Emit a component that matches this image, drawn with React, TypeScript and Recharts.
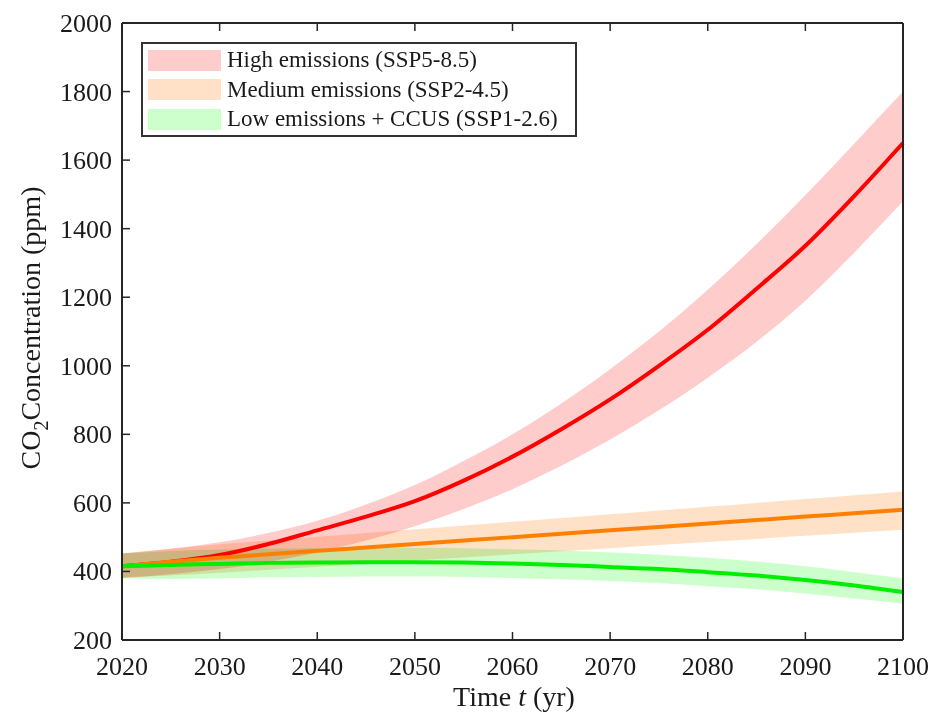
import React from 'react';
import { ComposedChart, Area, Line, XAxis, YAxis } from 'recharts';

const years = [2020, 2025, 2030, 2035, 2040, 2045, 2050, 2055, 2060, 2065, 2070, 2075, 2080, 2085, 2090, 2095, 2100];

const highMid = [415, 428, 448, 480, 520, 560, 605, 665, 735, 815, 902, 1000, 1105, 1225, 1350, 1495, 1650];
const highLow = [382, 392, 407, 428, 455, 490, 532, 582, 640, 708, 785, 870, 965, 1070, 1190, 1330, 1480];
const highHigh = [452, 466, 485, 512, 548, 595, 652, 722, 800, 890, 990, 1100, 1222, 1355, 1498, 1648, 1800];

const medMid = [415, 428, 440, 450, 460, 470, 480, 490, 500, 510, 520, 530, 540, 550, 560, 570, 580];
const medLow = [380, 388, 396, 405, 414, 423, 432, 441, 450, 459, 468, 477, 486, 495, 504, 513, 522];
const medHigh = [452, 466, 479, 490, 501, 512, 523, 534, 545, 556, 567, 578, 589, 600, 611, 622, 633];

const lowMid = [415, 419, 422, 425, 426, 427, 427, 426, 423, 419, 413, 407, 398, 388, 375, 359, 340];
const lowLow = [380, 378, 380, 383, 384, 385, 385, 384, 381, 377, 372, 366, 357, 348, 336, 321, 306];
const lowHigh = [452, 460, 464, 467, 468, 469, 469, 468, 465, 461, 455, 449, 440, 429, 415, 398, 380];

const xTicks = [2020, 2030, 2040, 2050, 2060, 2070, 2080, 2090, 2100];
const yTicks = [200, 400, 600, 800, 1000, 1200, 1400, 1600, 1800, 2000];

const legendNames = ['High emissions (SSP5-8.5)', 'Medium emissions (SSP2-4.5)', 'Low emissions + CCUS (SSP1-2.6)'];
const bandColors = ['#ffcccc', '#ffe1c8', '#ccffcc'];
const lineColors = ['#ff0000', '#ff7f00', '#00ee00'];

const data = years.map((year, i) => ({
  year,
  highMid: highMid[i],
  highBand: [highLow[i], highHigh[i]],
  medMid: medMid[i],
  medBand: [medLow[i], medHigh[i]],
  lowMid: lowMid[i],
  lowBand: [lowLow[i], lowHigh[i]],
}));

const FONT = '"Liberation Serif", "Times New Roman", serif';
const AXIS = '#262626';

const BottomTick = ({ x, y, payload }: any) => (
  <g>
    <line x1={x} x2={x} y1={y} y2={y - 8} stroke={AXIS} strokeWidth={1.5} />
    <text x={x} y={y + 35} textAnchor="middle" fontSize={26} fontFamily={FONT} fill="#1a1a1a">
      {payload.value}
    </text>
  </g>
);

const LeftTick = ({ x, y, payload }: any) => (
  <g>
    <line x1={x} x2={x + 8} y1={y} y2={y} stroke={AXIS} strokeWidth={1.5} />
    <text x={x - 10} y={y + 9} textAnchor="end" fontSize={26} fontFamily={FONT} fill="#1a1a1a">
      {payload.value}
    </text>
  </g>
);

const TopTick = ({ x, y }: any) => <line x1={x} x2={x} y1={y} y2={y + 8} stroke={AXIS} strokeWidth={1.5} />;
const RightTick = ({ x, y }: any) => <line x1={x} x2={x - 8} y1={y} y2={y} stroke={AXIS} strokeWidth={1.5} />;

export default function App() {
  return (
    <div style={{ position: 'absolute', left: 0, top: 0, width: 934, height: 715, background: '#fff' }}>
      <style>{`.recharts-area-area { mix-blend-mode: multiply; }`}</style>
      <ComposedChart width={934} height={715} data={data} margin={{ top: 22, right: 30, bottom: 0, left: 0 }}>
        <XAxis
          dataKey="year"
          type="number"
          domain={[2020, 2100]}
          ticks={xTicks}
          interval={0}
          height={75}
          tickSize={0}
          tickMargin={0}
          tickLine={false}
          tick={<BottomTick />}
          axisLine={{ stroke: AXIS, strokeWidth: 2 }}
        />
        <XAxis
          xAxisId="top"
          orientation="top"
          dataKey="year"
          type="number"
          domain={[2020, 2100]}
          ticks={xTicks}
          interval={0}
          height={1}
          tickSize={0}
          tickMargin={0}
          tickLine={false}
          tick={<TopTick />}
          axisLine={{ stroke: AXIS, strokeWidth: 2 }}
        />
        <YAxis
          type="number"
          domain={[200, 2000]}
          ticks={yTicks}
          interval={0}
          width={122}
          tickSize={0}
          tickMargin={0}
          tickLine={false}
          tick={<LeftTick />}
          axisLine={{ stroke: AXIS, strokeWidth: 2 }}
        />
        <YAxis
          yAxisId="right"
          orientation="right"
          type="number"
          domain={[200, 2000]}
          ticks={yTicks}
          interval={0}
          width={1}
          tickSize={0}
          tickMargin={0}
          tickLine={false}
          tick={<RightTick />}
          axisLine={{ stroke: AXIS, strokeWidth: 2 }}
        />
        <Area dataKey="highBand" type="monotone" fill={bandColors[0]} fillOpacity={1} stroke="none" isAnimationActive={false} />
        <Area dataKey="medBand" type="monotone" fill={bandColors[1]} fillOpacity={1} stroke="none" isAnimationActive={false} />
        <Area dataKey="lowBand" type="monotone" fill={bandColors[2]} fillOpacity={1} stroke="none" isAnimationActive={false} />
        <Line dataKey="highMid" type="monotone" stroke={lineColors[0]} strokeWidth={4} dot={false} isAnimationActive={false} />
        <Line dataKey="medMid" type="monotone" stroke={lineColors[1]} strokeWidth={4} dot={false} isAnimationActive={false} />
        <Line dataKey="lowMid" type="monotone" stroke={lineColors[2]} strokeWidth={4} dot={false} isAnimationActive={false} />
        <text x={40} y={328} transform="rotate(-90 40 328)" textAnchor="middle" fontSize={28} fontFamily={FONT} fill="#1a1a1a">
          CO<tspan dy={8} fontSize={20}>2</tspan><tspan dy={-8}>Concentration (ppm)</tspan>
        </text>
        <text x={514} y={706} textAnchor="middle" fontSize={28} fontFamily={FONT} fill="#1a1a1a">
          Time <tspan fontStyle="italic">t</tspan> (yr)
        </text>
      </ComposedChart>
      <div
        style={{
          position: 'absolute',
          left: 141,
          top: 42,
          width: 432,
          height: 91,
          border: '2px solid #333',
          background: '#fff',
          fontFamily: FONT,
          fontSize: 23,
          color: '#1a1a1a',
        }}
      >
        {legendNames.map((name, i) => (
          <div key={name} style={{ position: 'absolute', left: 5, top: 5 + i * 29.5, height: 22, display: 'flex', alignItems: 'center', whiteSpace: 'nowrap' }}>
            <div style={{ width: 73, height: 21, background: bandColors[i], marginRight: 6 }} />
            <span>{name}</span>
          </div>
        ))}
      </div>
    </div>
  );
}
